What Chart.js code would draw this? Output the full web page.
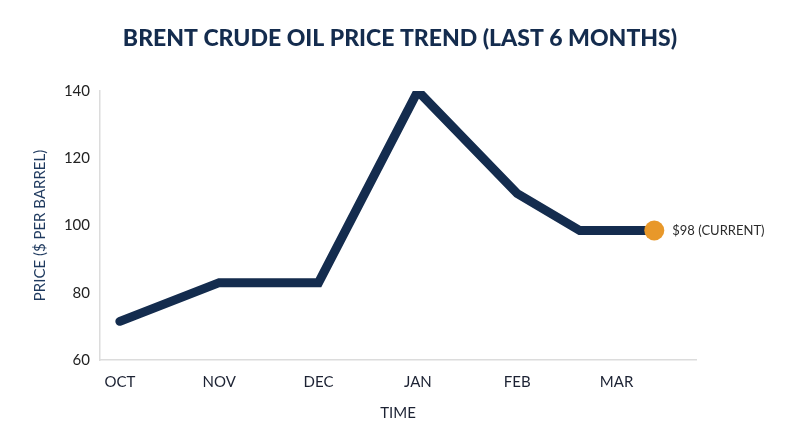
<!DOCTYPE html>
<html>
<head>
<meta charset="utf-8">
<script src="https://cdn.jsdelivr.net/npm/chart.js@4.4.1/dist/chart.umd.min.js"></script>
<style>
  html, body { margin: 0; padding: 0; background: #fff; }
  #wrap { width: 800px; height: 447px; }
</style>
</head>
<body>
<div id="wrap"><canvas id="oilChart"></canvas></div>
<script>
// Chart data
const months = ['OCT', 'NOV', 'DEC', 'JAN', 'FEB', 'MAR'];
const pointTimes = [0, 1, 2, 3, 4, 4.63, 5.38];   // position in months from OCT
const prices = [71.5, 83, 83, 140, 109.5, 98.5, 98.5];
const yTicks = [60, 80, 100, 120, 140];
const chartTitle = 'BRENT CRUDE OIL PRICE TREND (LAST 6 MONTHS)';
const currentLabel = '$98 (CURRENT)';

const navy = '#142c4e';
const orange = '#e8982a';

// Title centred on the whole canvas
const centerTitlePlugin = {
    id: 'centerTitle',
    afterDraw(chart) {
        const ctx = chart.ctx;
        ctx.save();
        ctx.font = '900 23px Lato';
        ctx.fillStyle = navy;
        ctx.textAlign = 'center';
        ctx.textBaseline = 'middle';
        ctx.fillText(chartTitle, chart.width / 2, 39);
        ctx.restore();
    }
};

// Label next to the last point
const currentLabelPlugin = {
    id: 'currentLabel',
    afterDatasetsDraw(chart) {
        const meta = chart.getDatasetMeta(0);
        const last = meta.data[meta.data.length - 1];
        const ctx = chart.ctx;
        ctx.save();
        ctx.font = '13px Lato';
        ctx.fillStyle = '#2b2b2b';
        ctx.textAlign = 'left';
        ctx.textBaseline = 'middle';
        ctx.fillText(currentLabel, last.x + 18, last.y);
        ctx.restore();
    }
};

const ctx = document.getElementById('oilChart').getContext('2d');
const oilChart = new Chart(ctx, {
    type: 'line',
    data: {
        datasets: [{
            data: pointTimes.map((t, i) => ({ x: t, y: prices[i] })),
            borderColor: navy,
            borderWidth: 9,
            borderJoinStyle: 'miter',
            borderCapStyle: 'round',
            tension: 0,
            fill: false,
            pointRadius: prices.map((p, i) => i === prices.length - 1 ? 10 : 0),
            pointBackgroundColor: orange,
            pointBorderWidth: 0
        }]
    },
    options: {
        responsive: true,
        maintainAspectRatio: false,
        animation: false,
        layout: { padding: { left: 0, right: 104, top: 91, bottom: 0 } },
        plugins: {
            legend: { display: false },
            tooltip: { enabled: false },
            title: { display: false }
        },
        scales: {
            x: {
                type: 'linear',
                min: -0.2,
                max: 5.8,
                afterBuildTicks: s => { s.ticks = months.map((m, i) => ({ value: i })); },
                afterFit: s => { s.height = 87; },
                grid: { display: false, drawTicks: false },
                border: { display: true, color: '#dcdcdc', width: 1.5 },
                ticks: {
                    padding: 13,
                    color: '#1c2233',
                    font: { family: 'Lato', size: 15 },
                    callback: v => months[v]
                },
                title: {
                    display: true,
                    text: 'TIME',
                    color: '#1c2233',
                    font: { family: 'Lato', size: 15 },
                    padding: { top: 0, bottom: 25 }
                }
            },
            y: {
                min: 60,
                max: 140,
                afterBuildTicks: s => { s.ticks = yTicks.map(v => ({ value: v })); },
                afterFit: s => { s.width = 100; },
                grid: { display: false, drawTicks: false },
                border: { display: true, color: '#dcdcdc', width: 1.5 },
                ticks: {
                    padding: 10,
                    color: '#222',
                    font: { family: 'Lato', size: 15 }
                },
                title: {
                    display: true,
                    text: 'PRICE ($ PER BARREL)',
                    color: '#1f3a5f',
                    font: { family: 'Lato', size: 15 },
                    padding: { top: 31, bottom: 0 }
                }
            }
        }
    },
    plugins: [centerTitlePlugin, currentLabelPlugin]
});
</script>
</body>
</html>
